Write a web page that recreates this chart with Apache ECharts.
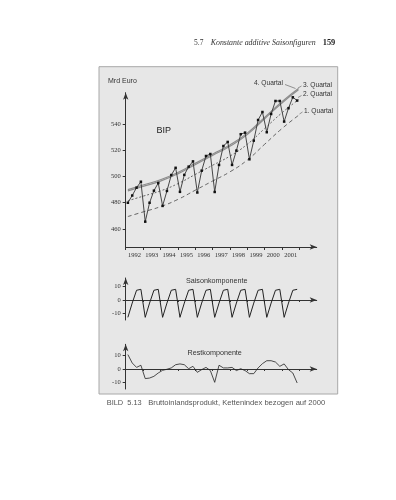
<!DOCTYPE html>
<html>
<head>
<meta charset="utf-8">
<script src="https://cdn.jsdelivr.net/npm/echarts@6/dist/echarts.min.js"></script>
<style>
html, body { margin: 0; padding: 0; background: #fff; }
#chart { width: 396px; height: 500px; }
</style>
</head>
<body>
<div id="chart"></div>
<script>
// Jahre, je 4 Quartale
var years = [1992, 1993, 1994, 1995, 1996, 1997, 1998, 1999, 2000, 2001];
var yearTicks = [1992, 1993, 1994, 1995, 1996, 1997, 1998, 1999, 2000, 2001, 2002];
var yearLabelPos = [1992.5, 1993.5, 1994.5, 1995.5, 1996.5, 1997.5, 1998.5, 1999.5, 2000.5, 2001.5];

// BIP in Mrd Euro, Q1..Q4 je Jahr
var bip = [
    480.0, 485.5, 491.5, 496.0,
    465.6, 480.0, 489.2, 495.0,
    477.6, 489.0, 501.1, 506.6,
    488.3, 501.2, 507.5, 511.5,
    487.8, 504.4, 515.6, 517.1,
    488.2, 508.8, 523.2, 526.3,
    508.8, 519.7, 532.2, 533.4,
    513.1, 527.3, 543.0, 549.1,
    533.7, 547.6, 557.5, 557.5,
    541.8, 552.0, 560.3, 557.8
];

// Trend + Saisonfigur je Quartal
var curveYears = [1992.125, 1993, 1994, 1995, 1996, 1997, 1998, 1999, 2000, 2001, 2001.95];
var quartal4 = [490.0, 493.5, 497.5, 503.0, 510.0, 517.0, 524.0, 533.0, 545.0, 557.0, 567.0];
var quartal3 = [489.0, 492.5, 496.5, 502.0, 509.0, 516.0, 523.0, 532.0, 544.0, 556.0, 566.0];
var quartal2 = [481.5, 485.0, 489.0, 494.5, 501.5, 508.5, 515.5, 524.5, 536.5, 548.5, 558.5];
var quartal1 = [469.5, 473.0, 477.0, 482.5, 489.5, 496.5, 503.5, 512.5, 524.5, 536.5, 546.5];

// Saisonkomponente
var saison = [
    -13, -2.3, 7.3, 8, -13, -2.3, 7.3, 8, -13, -2.3, 7.3, 8, -13, -2.3, 7.3, 8,
    -13, -2.3, 7.3, 8, -13, -2.3, 7.3, 8, -13, -2.3, 7.3, 8, -13, -2.3, 7.3, 8,
    -13, -2.3, 7.3, 8, -13, -2.3, 7.3, 8
];

// Restkomponente
var rest = [
    10.8, 4.5, 1.2, 2.8, -7.2, -6.8, -5.5, -3.0,
    -1.0, -0.2, 0.8, 3.2, 3.8, 3.2, 0.2, 2.0,
    -2.5, -0.5, 1.2, -1.2, -10.0, 2.8, 0.8, 0.8,
    1.2, -1.2, 0.2, -1.2, -3.5, -3.5, 0.8, 4.0,
    6.2, 6.2, 5.2, 2.0, 3.8, -0.5, -3.0, -10.5
];

function quarterX(i) {
    return years[Math.floor(i / 4)] + ((i % 4) + 0.5) / 4;
}
function pairs(xs, ys) {
    var out = [];
    for (var i = 0; i < ys.length; i++) out.push([xs(i), ys[i]]);
    return out;
}
function curve(vals) {
    return vals.map(function (v, i) { return [curveYears[i], v]; });
}

var axisColor = '#333';
var serif = 'Liberation Serif';

function xAxisFor(gridIndex, withLabels) {
    return {
        type: 'value', gridIndex: gridIndex, min: 1992, max: 2003,
        splitLine: { show: false },
        axisLine: { show: true, symbol: ['none', 'arrow'], symbolSize: [4, 7], lineStyle: { color: axisColor, width: 1 } },
        axisTick: { show: true, customValues: yearTicks, length: gridIndex === 0 ? 3 : 2, lineStyle: { color: axisColor } },
        axisLabel: withLabels ? {
            show: true, customValues: yearLabelPos, margin: 5,
            fontFamily: serif, fontSize: 6.5, color: '#333',
            formatter: function (v) { return String(Math.floor(v)); }
        } : { show: false }
    };
}
function yAxisFor(gridIndex, min, max, ticks) {
    return {
        type: 'value', gridIndex: gridIndex, min: min, max: max,
        splitLine: { show: false },
        axisLine: { show: true, symbol: ['none', 'arrow'], symbolSize: [4, 7], lineStyle: { color: axisColor, width: 1 } },
        axisTick: { show: true, customValues: ticks, length: 3, lineStyle: { color: axisColor } },
        axisLabel: { show: true, customValues: ticks, margin: 5, fontFamily: serif, fontSize: 6.5, color: '#333' }
    };
}

var chart = echarts.init(document.getElementById('chart'));

var option = {
    animation: false,
    backgroundColor: '#fff',
    grid: [
        { left: 125.7, top: 92.7, width: 191, height: 154.3 },
        { left: 125.7, top: 278, width: 191, height: 42 },
        { left: 125.7, top: 344.3, width: 191, height: 44.7 }
    ],
    xAxis: [xAxisFor(0, true), xAxisFor(1, false), xAxisFor(2, false)],
    yAxis: [
        yAxisFor(0, 446.3, 563.8, [460, 480, 500, 520, 540]),
        yAxisFor(1, -15, 16.5, [-10, 0, 10]),
        yAxisFor(2, -15, 18.5, [-10, 0, 10])
    ],
    series: [
        {
            name: '4. Quartal', type: 'line', xAxisIndex: 0, yAxisIndex: 0, smooth: true, clip: false,
            showSymbol: false, data: curve(quartal4), lineStyle: { color: '#8c8c8c', width: 1.2 }, z: 2
        },
        {
            name: '3. Quartal', type: 'line', xAxisIndex: 0, yAxisIndex: 0, smooth: true, clip: false,
            showSymbol: false, data: curve(quartal3), lineStyle: { color: '#8c8c8c', width: 1.2 }, z: 2
        },
        {
            name: '2. Quartal', type: 'line', xAxisIndex: 0, yAxisIndex: 0, smooth: true, clip: false,
            showSymbol: false, data: curve(quartal2), lineStyle: { color: '#444', width: 0.8, type: [2, 2] }, z: 2
        },
        {
            name: '1. Quartal', type: 'line', xAxisIndex: 0, yAxisIndex: 0, smooth: true, clip: false,
            showSymbol: false, data: curve(quartal1), lineStyle: { color: '#444', width: 0.8, type: [4, 3] }, z: 2
        },
        {
            name: 'BIP', type: 'line', xAxisIndex: 0, yAxisIndex: 0, data: pairs(quarterX, bip),
            symbol: 'rect', symbolSize: 2.5, showSymbol: true,
            itemStyle: { color: '#111' }, lineStyle: { color: '#333', width: 0.9 }, z: 5
        },
        {
            name: 'Saisonkomponente', type: 'line', xAxisIndex: 1, yAxisIndex: 1, data: pairs(quarterX, saison),
            showSymbol: false, lineStyle: { color: '#222', width: 1 }
        },
        {
            name: 'Restkomponente', type: 'line', xAxisIndex: 2, yAxisIndex: 2, data: pairs(quarterX, rest),
            showSymbol: false, lineStyle: { color: '#222', width: 0.8 }
        }
    ],
    graphic: [
        { type: 'rect', z: -10, silent: true, shape: { x: 99, y: 66.7, width: 238.7, height: 327.3 },
          style: { fill: '#e7e7e7', stroke: '#a8a8a8', lineWidth: 1 } },
        // Kopfzeile
        { type: 'text', z: 100, style: { x: 194, y: 42.7, text: '5.7', font: '7.5px "Liberation Serif"', fill: '#333', textVerticalAlign: 'middle' } },
        { type: 'text', z: 100, style: { x: 210.7, y: 42.7, text: 'Konstante additive Saisonfiguren', font: 'italic 7.9px "Liberation Serif"', fill: '#333', textVerticalAlign: 'middle' } },
        { type: 'text', z: 100, style: { x: 322.7, y: 42.7, text: '159', font: 'bold 8.4px "Liberation Serif"', fill: '#222', textVerticalAlign: 'middle' } },
        // Beschriftungen im Diagramm
        { type: 'text', z: 100, style: { x: 108, y: 81.5, text: 'Mrd Euro', font: '7px "Liberation Sans"', fill: '#333', textVerticalAlign: 'middle' } },
        { type: 'text', z: 100, style: { x: 156.5, y: 130.7, text: 'BIP', font: '9px "Liberation Sans"', fill: '#222', textVerticalAlign: 'middle' } },
        { type: 'text', z: 100, style: { x: 254, y: 83.3, text: '4. Quartal', font: '6.6px "Liberation Sans"', fill: '#333', textVerticalAlign: 'middle' } },
        { type: 'text', z: 100, style: { x: 303, y: 84.7, text: '3. Quartal', font: '6.6px "Liberation Sans"', fill: '#333', textVerticalAlign: 'middle' } },
        { type: 'text', z: 100, style: { x: 303, y: 94.3, text: '2. Quartal', font: '6.6px "Liberation Sans"', fill: '#333', textVerticalAlign: 'middle' } },
        { type: 'text', z: 100, style: { x: 304, y: 110.7, text: '1. Quartal', font: '6.6px "Liberation Sans"', fill: '#333', textVerticalAlign: 'middle' } },
        { type: 'line', z: 100, shape: { x1: 285, y1: 84.5, x2: 295.5, y2: 88.5 }, style: { stroke: '#555', lineWidth: 0.6 } },
        { type: 'line', z: 100, shape: { x1: 301.5, y1: 86, x2: 298, y2: 88 }, style: { stroke: '#555', lineWidth: 0.6 } },
        { type: 'line', z: 100, shape: { x1: 301.5, y1: 95.5, x2: 298, y2: 97.5 }, style: { stroke: '#555', lineWidth: 0.6 } },
        { type: 'line', z: 100, shape: { x1: 302.5, y1: 112, x2: 299.5, y2: 114 }, style: { stroke: '#555', lineWidth: 0.6 } },
        { type: 'text', z: 100, style: { x: 216.7, y: 280.7, text: 'Saisonkomponente', font: '7.2px "Liberation Sans"', fill: '#333', textAlign: 'center', textVerticalAlign: 'middle' } },
        { type: 'text', z: 100, style: { x: 214.7, y: 353.3, text: 'Restkomponente', font: '7.2px "Liberation Sans"', fill: '#333', textAlign: 'center', textVerticalAlign: 'middle' } },
        // Bildunterschrift
        { type: 'text', z: 100, style: { x: 106.7, y: 403.3, text: 'BILD  5.13', font: '7.4px "Liberation Sans"', fill: '#555', textVerticalAlign: 'middle' } },
        { type: 'text', z: 100, style: { x: 148.3, y: 403.3, text: 'Bruttoinlandsprodukt, Kettenindex bezogen auf 2000', font: '7.6px "Liberation Sans"', fill: '#555', textVerticalAlign: 'middle' } }
    ]
};

chart.setOption(option);
</script>
</body>
</html>
